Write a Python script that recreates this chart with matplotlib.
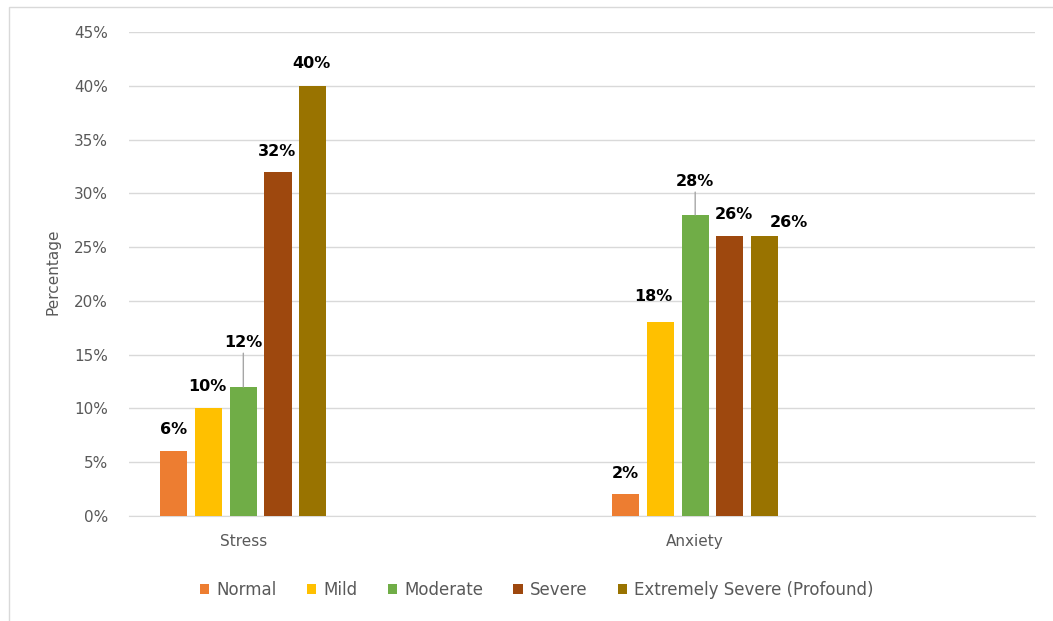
import numpy as np
import matplotlib
matplotlib.use("Agg")
import matplotlib.pyplot as plt
from matplotlib.patches import Rectangle

# data
categories = ["Stress", "Anxiety"]
levels = ["Normal", "Mild", "Moderate", "Severe", "Extremely Severe (Profound)"]
normal = [6, 2]
mild = [10, 18]
moderate = [12, 28]
severe = [32, 26]
extreme = [40, 26]
series = [normal, mild, moderate, severe, extreme]

colors = ["#ED7D31", "#FFC000", "#70AD47", "#9E480E", "#997300"]
# label offsets in pixels (dx, dy) from the bar top, per series per category
offsets = [
    [(0, 22), (0, 21)],
    [(-1, 22), (-7, 26)],
    [(0, 44), (0, 33)],
    [(-1, 20), (4, 22)],
    [(-1, 22), (24, 14)],
]
leader = [[False, False], [False, False], [True, True], [False, False], [False, False]]

gray = "#595959"
plt.rcParams['font.family'] = ['DejaVu Sans']

fig = plt.figure(figsize=(10.53, 6.21), dpi=100)
ax = fig.add_axes([129/1053, (621-516)/621, (1035-129)/1053, (516-32)/621])

x = np.arange(len(categories))
step = 0.0768
width = 0.06
for i, vals in enumerate(series):
    pos = x + (i - 2) * step
    ax.bar(pos, vals, width, color=colors[i], label=levels[i], zorder=3)
    for j, v in enumerate(vals):
        dx, dy = offsets[i][j]
        kw = {}
        if leader[i][j]:
            kw['arrowprops'] = dict(arrowstyle='-', color='#a6a6a6', lw=1,
                                    shrinkA=0, shrinkB=0)
        ax.annotate(f"{v}%", xy=(pos[j], v), xytext=(dx, dy),
                    textcoords='offset pixels', ha='center', va='center',
                    fontsize=11.5, fontweight='bold', color='black', **kw)

ax.set_xlim(-0.253, 1.752)
ax.set_ylim(0, 45)
ax.set_yticks(np.arange(0, 46, 5))
ax.set_yticklabels([f"{t}%" for t in range(0, 46, 5)])
ax.set_xticks(x)
ax.set_xticklabels(categories)
ax.tick_params(axis='both', length=0, colors=gray, labelsize=11)
ax.tick_params(axis='y', pad=15)
ax.tick_params(axis='x', pad=13)
ax.grid(axis='y', color='#d9d9d9', lw=1, zorder=0)
for s in ['top', 'right', 'left']:
    ax.spines[s].set_visible(False)
ax.spines['bottom'].set_color('#d9d9d9')
ax.set_ylabel("Percentage", color=gray, fontsize=11)
ax.yaxis.set_label_coords(-0.076, 0.504)

fig.legend(loc='center', bbox_to_anchor=(537/1053, (621-590)/621), ncol=5,
           frameon=False, fontsize=12, labelcolor=gray, handlelength=0.55,
           handleheight=0.55, handletextpad=0.45, columnspacing=1.8)

fig.add_artist(Rectangle((8.5/1053, -0.1), 1.2, (621-7)/621 + 0.1,
                         transform=fig.transFigure, fill=False,
                         edgecolor='#d9d9d9', lw=1))

fig.savefig("out.png", dpi=100)
